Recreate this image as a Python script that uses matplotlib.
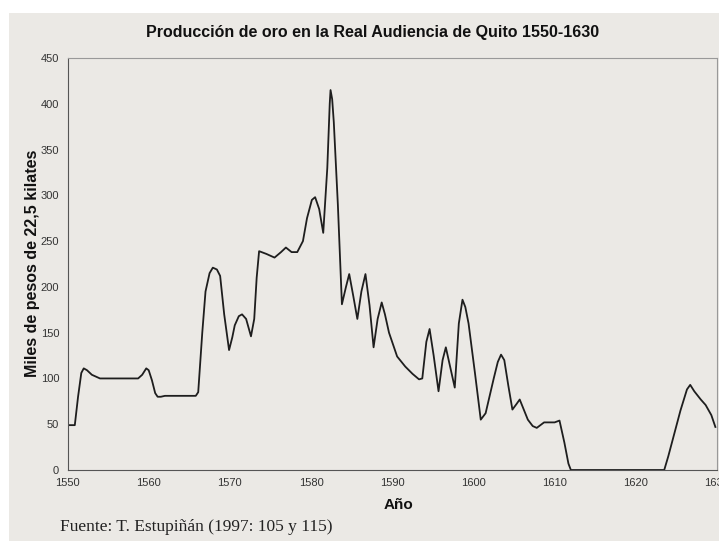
import matplotlib
matplotlib.use("Agg")
import matplotlib.pyplot as plt
from matplotlib.patches import Rectangle

# Data (year, thousands of pesos)
years = [1550.0, 1550.9, 1551.3, 1551.7, 1552.0, 1552.4, 1553.0, 1554.0, 1556.0, 1558.7,
         1559.2, 1559.7, 1560.0, 1560.4, 1560.8, 1561.1, 1561.5, 1562.0, 1565.2, 1565.8,
         1566.1, 1566.6, 1567.0, 1567.5, 1567.9, 1568.4, 1568.8, 1569.3, 1569.9, 1570.3,
         1570.6, 1571.1, 1571.5, 1572.0, 1572.6, 1573.0, 1573.3, 1573.6, 1574.5, 1575.5,
         1576.3, 1576.9, 1577.6, 1578.3, 1579.0, 1579.5, 1580.1, 1580.5, 1581.0, 1581.5,
         1582.0, 1582.3, 1582.4, 1582.6, 1582.8, 1583.3, 1583.8, 1584.3, 1584.7, 1585.2,
         1585.7, 1586.2, 1586.7, 1587.2, 1587.7, 1588.2, 1588.7, 1589.1, 1589.6, 1590.6,
         1591.6, 1592.5, 1593.3, 1593.7, 1594.2, 1594.6, 1595.1, 1595.7, 1596.2, 1596.6,
         1597.2, 1597.7, 1598.2, 1598.65, 1599.0, 1599.4, 1600.2, 1600.9, 1601.5, 1602.5,
         1603.0, 1603.4, 1603.8, 1604.3, 1604.8, 1605.3, 1605.7, 1606.2, 1606.7, 1607.3,
         1607.8, 1608.7, 1610.0, 1610.6, 1611.2, 1611.7, 1612.0, 1623.5, 1624.0, 1625.5,
         1626.3, 1626.7, 1627.2, 1628.0, 1628.6, 1629.3, 1629.8]
values = [49, 49, 80, 106, 111, 109, 104, 100, 100, 100,
          104, 111, 109, 98, 84, 80, 80, 81, 81, 81,
          85, 150, 195, 215, 221, 219, 212, 170, 131, 145,
          158, 168, 170, 165, 146, 165, 210, 239, 236, 232,
          238, 243, 238, 238, 250, 275, 295, 298, 285, 259,
          330, 400, 415, 405, 380, 290, 181, 200, 214, 190,
          165, 195, 214, 180, 134, 165, 183, 170, 150, 124,
          113, 105, 99, 100, 140, 154, 125, 86, 120, 134,
          110, 90, 160, 186, 178, 160, 105, 55, 62, 100,
          118, 126, 120, 92, 66, 72, 77, 66, 55, 48,
          46, 52, 52, 54, 30, 7, 0, 0, 15, 65,
          88, 93, 86, 77, 71, 60, 47]

x_ticks = [1550, 1560, 1570, 1580, 1590, 1600, 1610, 1620, 1630]
y_ticks = [0, 50, 100, 150, 200, 250, 300, 350, 400, 450]

title = "Producción de oro en la Real Audiencia de Quito 1550-1630"
ylabel = "Miles de pesos de 22,5 kilates"
xlabel = "Año"
source = "Fuente: T. Estupiñán (1997: 105 y 115)"

W, H = 719, 541
fig = plt.figure(figsize=(W / 100, H / 100), dpi=100)
fig.patch.set_facecolor("white")
# scanned page background
fig.patches.append(Rectangle((9 / W, 0), 1, 1 - 13 / H, transform=fig.transFigure,
                             facecolor="#ebe9e5", edgecolor="none", zorder=-10))

left, right = 67.5 / W, 717 / W
bottom, top = 1 - 470 / H, 1 - 58 / H
ax = fig.add_axes([left, bottom, right - left, top - bottom])
ax.set_facecolor("none")
ax.plot(years, values, color="#1e1e1e", lw=1.3, solid_joinstyle="round", clip_on=True)
ax.set_xlim(1550, 1630)
ax.set_ylim(0, 450)
ax.set_xticks(x_ticks)
ax.set_yticks(y_ticks)
ax.tick_params(length=0, labelsize=8, colors="#333333", pad=6)
for lbl in ax.get_xticklabels() + ax.get_yticklabels():
    lbl.set_family(["Liberation Sans", "DejaVu Sans"])
for s in ["left", "bottom"]:
    ax.spines[s].set_color("#555555")
    ax.spines[s].set_linewidth(0.8)
for s in ["top", "right"]:
    ax.spines[s].set_color("#999999")
    ax.spines[s].set_linewidth(0.8)

fig.text(373 / W, 1 - 32 / H, title, ha="center", va="center", fontsize=11.5,
         fontweight="bold", family=["Liberation Sans", "DejaVu Sans"], color="#111111")
fig.text(33 / W, 1 - 263 / H, ylabel, ha="center", va="center", rotation=90,
         fontsize=11.5, fontweight="bold", family=["Liberation Sans", "DejaVu Sans"],
         color="#111111")
fig.text(399 / W, 1 - 505 / H, xlabel, ha="center", va="center", fontsize=11,
         fontweight="bold", family=["Liberation Sans", "DejaVu Sans"], color="#111111")
fig.text(60 / W, 1 - 527 / H, source, ha="left", va="center", fontsize=12.5,
         family=["Liberation Serif", "DejaVu Serif"], color="#222222")

fig.savefig("out.png", dpi=100)
